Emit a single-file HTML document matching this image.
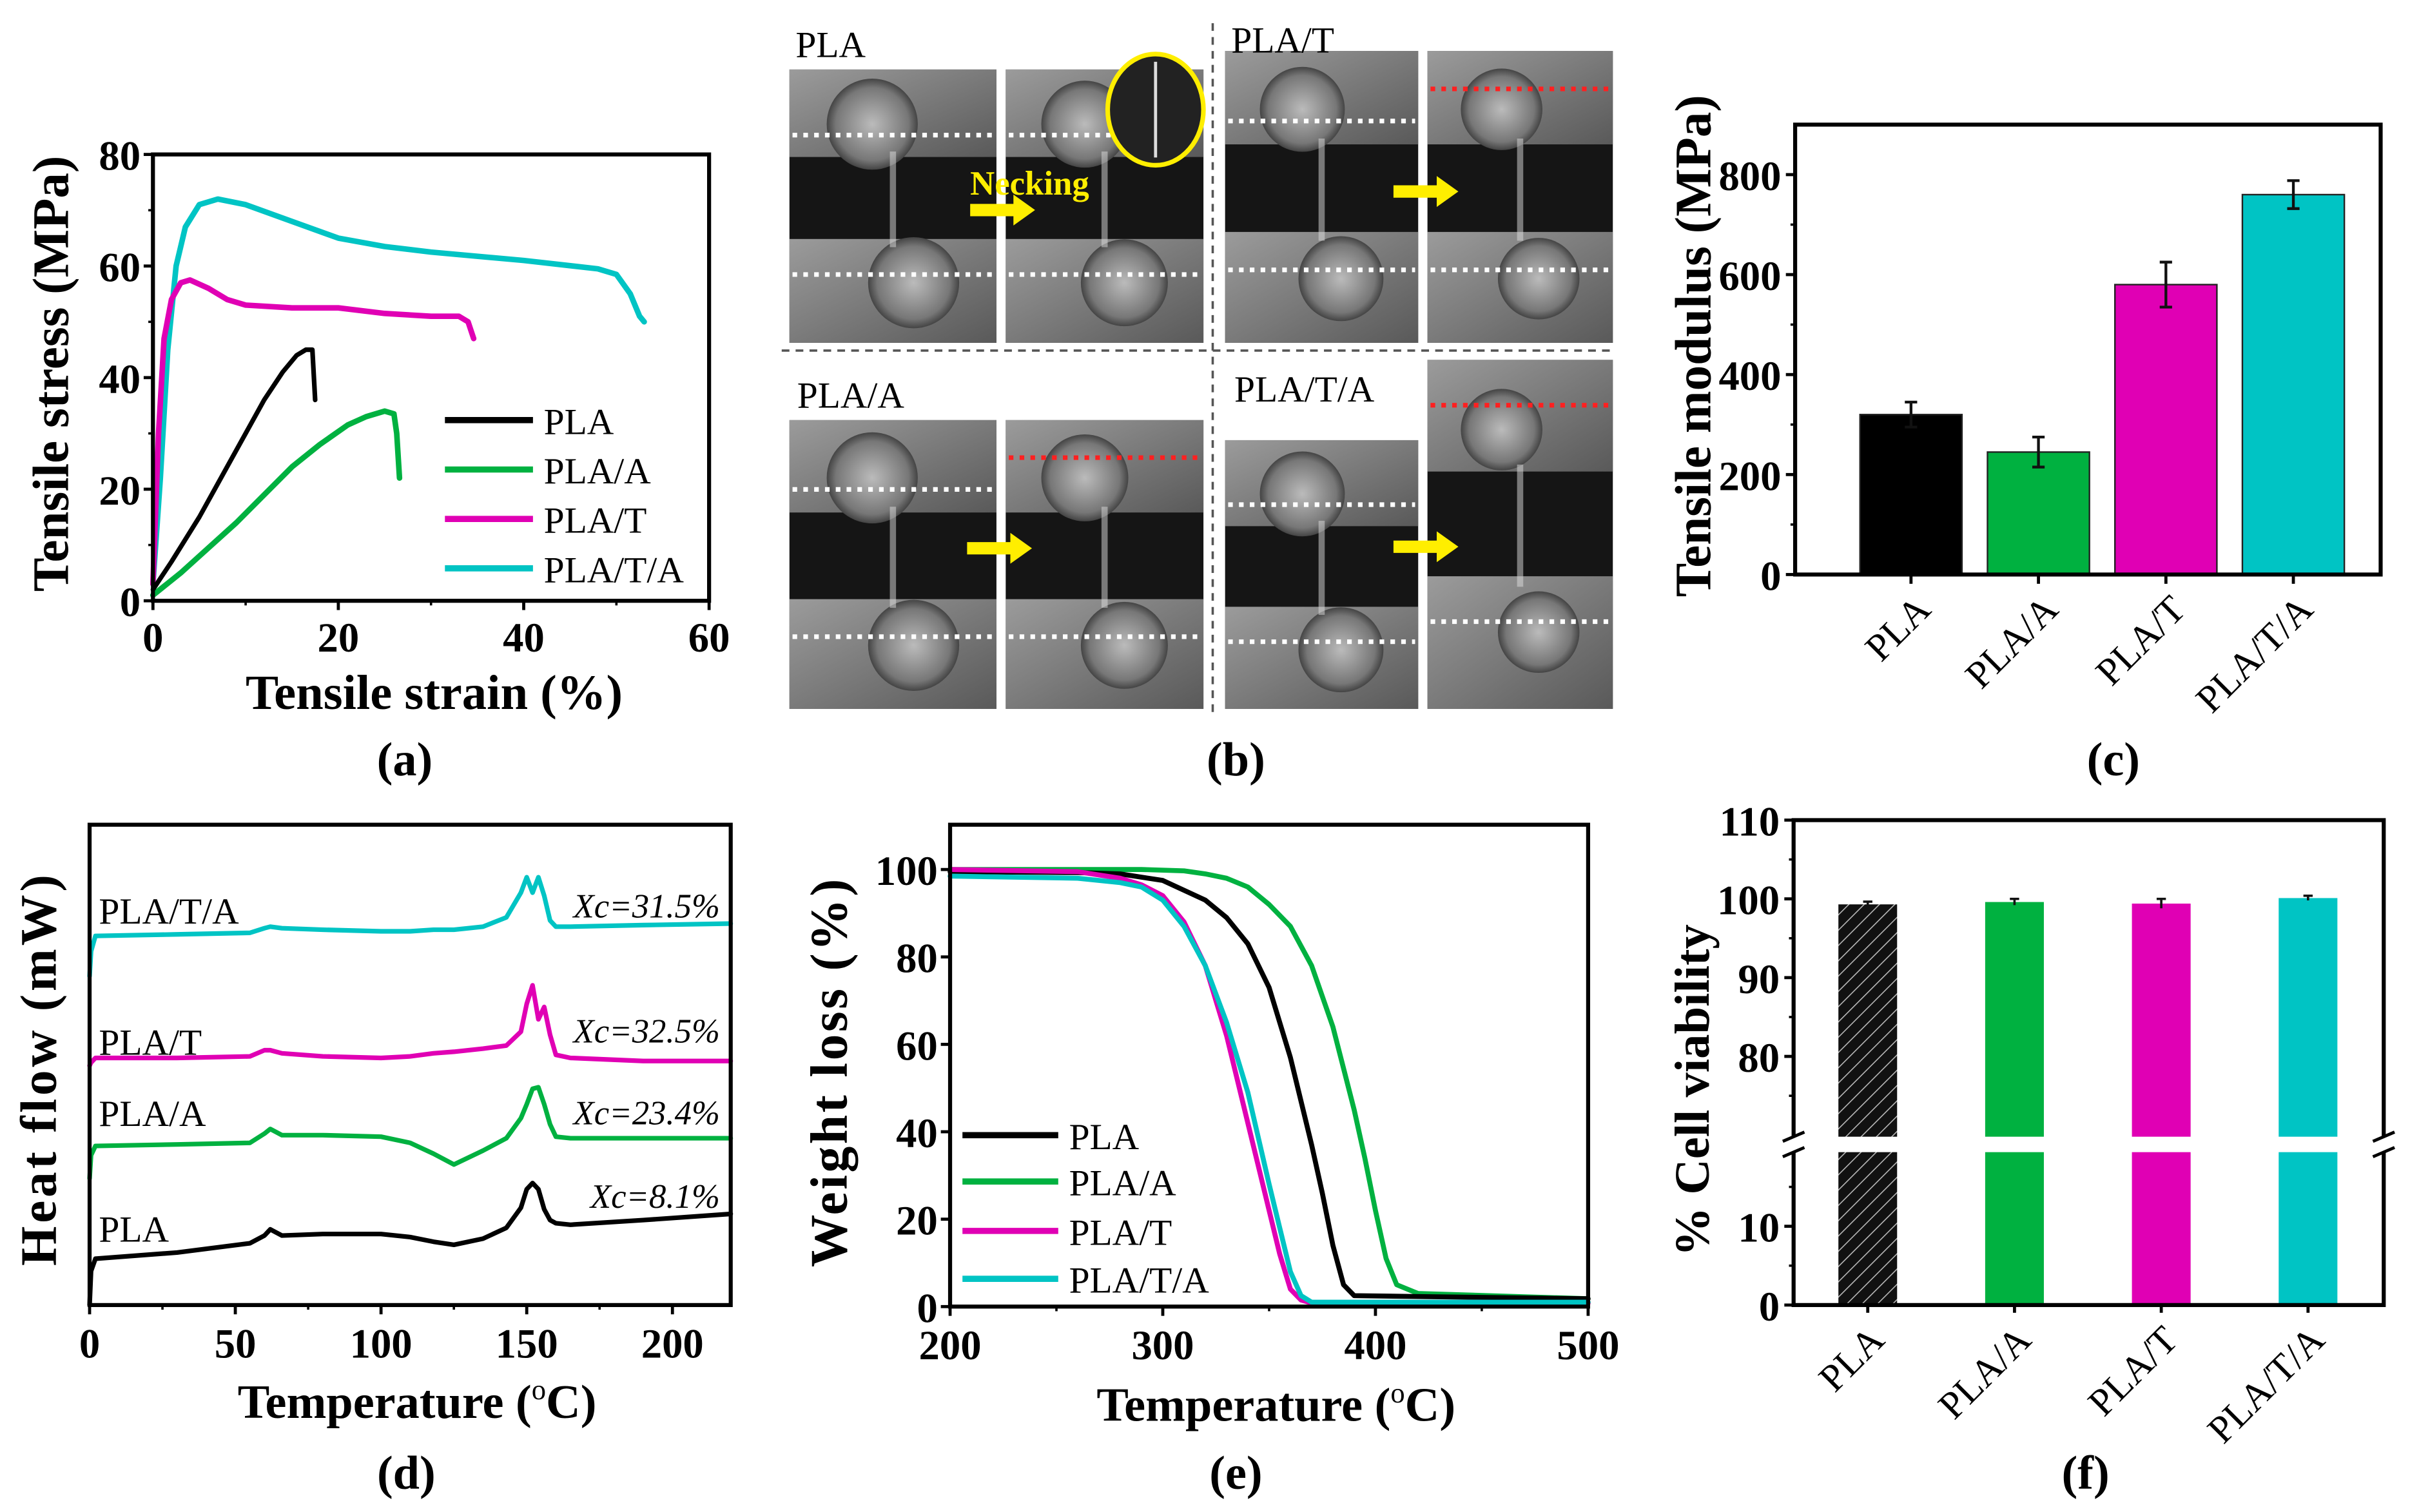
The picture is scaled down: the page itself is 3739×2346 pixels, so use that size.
<!DOCTYPE html>
<html><head><meta charset="utf-8"><style>
html,body{margin:0;padding:0;background:#fff;}
svg{display:block;}
text{font-family:"Liberation Serif",serif;}
</style></head><body>
<svg id="fig" xmlns="http://www.w3.org/2000/svg" width="3739" height="2346" viewBox="0 0 1560 979" preserveAspectRatio="none">
<defs>
<pattern id="hatch" patternUnits="userSpaceOnUse" width="7" height="7" patternTransform="rotate(45)">
<rect width="7" height="7" fill="#111"/><line x1="0" y1="0" x2="0" y2="7" stroke="#bbb" stroke-width="1.3"/>
</pattern>
<linearGradient id="metal" x1="0" y1="0" x2="1" y2="1"><stop offset="0" stop-color="#c8c8c8"/><stop offset="1" stop-color="#707070"/></linearGradient>
<radialGradient id="disc"><stop offset="0" stop-color="#bbb"/><stop offset="0.8" stop-color="#777"/><stop offset="1" stop-color="#444"/></radialGradient>
</defs>
<g id="pa"></g>
<g id="pb"></g>
<g id="pc"></g>
<g id="pd"></g>
<g id="pe"></g>
<g id="pf"></g>
</svg>
<script>
// ---------- data ----------
const seriesNames = ["PLA","PLA/A","PLA/T","PLA/T/A"];
const seriesColors = ["#000000","#00b140","#e000b4","#00c4c4"];
// (a) tensile strain (%) / stress (MPa)
const aPLA_x = [0,2,5,8,10,12,14,15.5,16.5,17.2,17.5];
const aPLA_y = [2,7,15,24,30,36,41,44,45,45,36];
const aPLAA_x = [0,3,6,9,12,15,18,21,23,25,26,26.3,26.6];
const aPLAA_y = [1,5,9.5,14,19,24,28,31.5,33,34,33.5,30,22];
const aPLAT_x = [0,0.6,1.2,2,3,4,6,8,10,15,20,25,30,33,34,34.6];
const aPLAT_y = [3,30,47,54,57,57.5,56,54,53,52.5,52.5,51.5,51,51,50,47];
const aPLATA_x = [0,0.8,1.6,2.5,3.5,5,7,10,15,20,25,30,40,48,50,51.5,52.5,53];
const aPLATA_y = [3,22,45,60,67,71,72,71,68,65,63.5,62.5,61,59.5,58.5,55,51,50];
const aXticks = [0,20,40,60];
const aYticks = [0,20,40,60,80];
// (c) modulus
const cValues = [320,245,580,760];
const cErrors = [25,30,45,28];
const cYticks = [0,200,400,600,800];
// (d) DSC: temperature and heat flow (arbitrary units)
const dT = [0,0.5,2,30,55,60,62,66,80,100,110,118,125,135,143,148,150,152,154,156,158,160,165,190,220];
const dPLA   = [3,25,33,37,43,48,52,48,49,49,47,44,42,46,53,66,78,82,78,65,58,56,55,58,62];
const dPLAA  = [85,100,106,107,108,114,117,113,113,112,108,101,94,103,111,124,133,143,144,133,120,112,111,111,111];
const dPLAT  = [158,160,163,163,164,168,168,166,164,163,164,166,167,169,171,180,198,210,188,196,178,165,163,161,161];
const dPLATA = [216,232,242,243,244,247,248,247,246,245,245,246,246,248,254,270,280,270,280,268,252,248,248,249,250];
const dXticks = [0,50,100,150,200];
const dXc = ["Xc=8.1%","Xc=23.4%","Xc=32.5%","Xc=31.5%"];
// (e) TGA
const eT_PLA = [200,260,280,300,320,330,340,350,360,370,375,380,385,390,420,500];
const eW_PLA = [99.5,99.3,99,97.5,93,89,83,73,57,37,26,14,5,2.5,2.3,1.8];
const eT_PLAA = [200,290,310,320,330,340,350,360,370,380,390,395,400,405,410,420,500];
const eW_PLAA = [100,100,99.7,99,98,96,92,87,78,64,45,34,22,11,5,3,1.8];
const eT_PLAT = [200,260,280,290,300,310,320,330,340,345,350,355,360,365,370,500];
const eW_PLAT = [100,99.5,98,96.5,94,88,78,62,42,32,22,12,4,1.5,0.8,0.8];
const eT_PLATA = [200,260,280,290,300,310,320,330,340,350,355,360,365,370,500];
const eW_PLATA = [98.5,98,97,96,93,87,78,65,49,28,18,8,2.5,1,1];
const eXticks = [200,300,400,500];
const eYticks = [0,20,40,60,80,100];
// (f) cell viability
const fValues = [99.3,99.6,99.4,100.1];
const fErrors = [0.15,0.2,0.4,0.1];
const fYticksUpper = [80,90,100,110];
const fYticksLower = [0,10];

// ---------- helpers ----------
const NS="http://www.w3.org/2000/svg";
function mk(parent, tag, attrs, name){
  const el=document.createElementNS(NS,tag);
  for(const k in attrs) el.setAttribute(k,attrs[k]);
  
  
  parent.appendChild(el);
  return el;
}
function txt(parent, x, y, s, size, opts, name){
  opts=opts||{};
  const a={x:x,y:y,'font-size':size,'text-anchor':opts.anchor||'middle','font-weight':opts.bold?'bold':'normal',fill:opts.fill||'#000'};
  if(opts.italic) a['font-style']='italic';
  if(opts.ls) a['letter-spacing']=opts.ls;
  if(opts.rot!==undefined) a.transform='rotate('+opts.rot+' '+x+' '+y+')';
  const t=mk(parent,'text',a,name);
  t.textContent=s;
  return t;
}
function tempTitle(parent,x,y,size,name){
  const t=mk(parent,'text',{x:x,y:y,'font-size':size,'text-anchor':'middle','font-weight':'bold'},name);
  const s1=document.createElementNS(NS,'tspan'); s1.textContent='Temperature ('; t.appendChild(s1);
  const s2=document.createElementNS(NS,'tspan'); s2.setAttribute('dy',-12); s2.setAttribute('font-size',size*0.6); s2.setAttribute('font-weight','normal'); s2.textContent='o'; t.appendChild(s2);
  const s3=document.createElementNS(NS,'tspan'); s3.setAttribute('dy',12); s3.textContent='C)'; t.appendChild(s3);
  return t;
}
function poly(parent, xs, ys, fx, fy, color, w, name){
  const pts=xs.map((v,i)=>fx(v).toFixed(2)+','+fy(ys[i]).toFixed(2)).join(' ');
  return mk(parent,'polyline',{points:pts,fill:'none',stroke:color,'stroke-width':w,'stroke-linejoin':'round','stroke-linecap':'round'},name);
}
function box(parent,x1,y1,x2,y2,name){
  return mk(parent,'rect',{x:x1,y:y1,width:x2-x1,height:y2-y1,fill:'none',stroke:'#000','stroke-width':2.6},name);
}
function ln(parent,x1,y1,x2,y2,c,w,name,dash){
  const a={x1:x1,y1:y1,x2:x2,y2:y2,stroke:c,'stroke-width':w};
  if(dash) a['stroke-dasharray']=dash;
  return mk(parent,'line',a,name);
}

// ---------- (a) ----------
(function(){
  const g=document.getElementById('pa');
  const X0=99,X1=459,Y0=389,Y1=100;
  const xA=v=>X0+(v-0)/60*(X1-X0);
  const yA=v=>Y0-(v-0)/80*(Y0-Y1);
  const xs=[aPLA_x,aPLAA_x,aPLAT_x,aPLATA_x], ys=[aPLA_y,aPLAA_y,aPLAT_y,aPLATA_y];
  for(let i=3;i>=0;i--) poly(g,xs[i],ys[i],xA,yA,seriesColors[i],i===0?3:3.6,'tensile-curve-'+seriesNames[i].toLowerCase().replace(/\//g,'-'));
  box(g,X0,Y1,X1,Y0,'plot-frame-a');
  aXticks.forEach(v=>{ln(g,xA(v),Y0,xA(v),Y0+6,'#000',2,'x-tick-a');txt(g,xA(v),Y0+33,String(v),27,{bold:true},'x-tick-label-a');});
  [10,30,50].forEach(v=>ln(g,xA(v),Y0,xA(v),Y0+3,'#000',1.5,'x-minor-tick-a'));
  aYticks.forEach(v=>{ln(g,X0,yA(v),X0-6,yA(v),'#000',2,'y-tick-a');txt(g,X0-8,yA(v)+10,String(v),27,{bold:true,anchor:'end'},'y-tick-label-a');});
  [10,30,50,70].forEach(v=>ln(g,X0,yA(v),X0-3,yA(v),'#000',1.5,'y-minor-tick-a'));
  txt(g,281,459,'Tensile strain (%)',32,{bold:true},'x-axis-title-a');
  txt(g,44,242,'Tensile stress (MPa)',33,{bold:true,rot:-90},'y-axis-title-a');
  const ly=[272,304,336,368];
  seriesNames.forEach((n,i)=>{ln(g,288,ly[i],345,ly[i],seriesColors[i],4,'legend-line-a');txt(g,352,ly[i]+9,n,24,{anchor:'start'},'legend-entry-a');});
  txt(g,262,502,'(a)',31,{bold:true},'panel-label-a');
})();

// ---------- (b) photos ----------
(function(){
  const g=document.getElementById('pb');
  const imgs=[[511,45,134,177,0,'white','white'],[651,45,128,177,1,'white','white'],[793,33,125,189,0,'white','white'],[924,33,120,189,1,'red','white'],
              [511,272,134,187,0,'white','white'],[651,272,128,187,1,'red','white'],[793,285,125,174,0,'white','white'],[924,233,120,226,1,'red','white']];
  imgs.forEach((m,k)=>{
    const [x,y,w,h]=m;
    mk(g,'rect',{x:x,y:y,width:w,height:h,fill:'#151515'},'photo-frame');
    mk(g,'rect',{x:x,y:y,width:w,height:h*0.32,fill:'url(#metal)',opacity:0.75},'upper-grip');
    mk(g,'circle',{cx:x+w*0.4,cy:y+h*0.2,r:Math.min(w,h)*0.22,fill:'url(#disc)'},'upper-disc');
    mk(g,'rect',{x:x,y:y+h*0.62,width:w,height:h*0.38,fill:'url(#metal)',opacity:0.75},'lower-grip');
    mk(g,'circle',{cx:x+w*0.6,cy:y+h*0.78,r:Math.min(w,h)*0.22,fill:'url(#disc)'},'lower-disc');
    mk(g,'rect',{x:x+w*0.5-2,y:y+h*0.3,width:4,height:h*0.35,fill:'#ddd',opacity:0.5},'specimen');
    const c1=m[5]==='red'?'#ff2020':'#ffffff';
    ln(g,x+2,y+h*(m[5]==='red'?0.13:0.24),x+w-2,y+h*(m[5]==='red'?0.13:0.24),c1,3,'gauge-mark-upper','3 4');
    ln(g,x+2,y+h*0.75,x+w-2,y+h*0.75,'#ffffff',3,'gauge-mark-lower','3 4');
  });
  [[628,136],[902,124],[626,355],[902,354]].forEach(p=>{
    mk(g,'polygon',{points:(p[0])+','+(p[1]-4)+' '+(p[0]+28)+','+(p[1]-4)+' '+(p[0]+28)+','+(p[1]-10)+' '+(p[0]+42)+','+p[1]+' '+(p[0]+28)+','+(p[1]+10)+' '+(p[0]+28)+','+(p[1]+4)+' '+p[0]+','+(p[1]+4),fill:'#ffee00'},'yellow-arrow');
  });
  mk(g,'ellipse',{cx:748,cy:71,rx:31,ry:36,fill:'#222',stroke:'#ffee00','stroke-width':3},'necking-zoom-circle');
  ln(g,748,40,748,102,'#ddd',2,'necking-specimen');
  txt(g,628,126,'Necking',22,{bold:true,anchor:'start',fill:'#ffee00'},'necking-label');
  ln(g,785,15,785,462,'#555',1.5,'separator-vertical','5 4');
  ln(g,506,227,1046,227,'#555',1.5,'separator-horizontal','5 4');
  txt(g,515,37,'PLA',24,{anchor:'start'},'photo-label-pla');
  txt(g,797,34,'PLA/T',24,{anchor:'start'},'photo-label-pla-t');
  txt(g,516,264,'PLA/A',24,{anchor:'start'},'photo-label-pla-a');
  txt(g,799,260,'PLA/T/A',24,{anchor:'start'},'photo-label-pla-t-a');
  txt(g,800,502,'(b)',31,{bold:true},'panel-label-b');
})();

// ---------- (c) ----------
(function(){
  const g=document.getElementById('pc');
  const X0=1162,X1=1541,Y0=372,Y1=80.7;
  const yC=v=>Y0-v/900*(Y0-Y1);
  const xC=i=>1237+i*82.5;
  cValues.forEach((v,i)=>{
    mk(g,'rect',{x:xC(i)-33,y:yC(v),width:66,height:Y0-yC(v),fill:seriesColors[i],stroke:'#222','stroke-width':1},'bar-'+seriesNames[i].toLowerCase().replace(/\//g,'-'));
    const e=cErrors[i];
    ln(g,xC(i),yC(v+e),xC(i),yC(v-e),'#111',1.8,'error-bar');
    ln(g,xC(i)-4,yC(v+e),xC(i)+4,yC(v+e),'#111',1.8,'error-cap');
    ln(g,xC(i)-4,yC(v-e),xC(i)+4,yC(v-e),'#111',1.8,'error-cap');
    ln(g,xC(i),Y0,xC(i),Y0+6,'#000',2,'x-tick-c');
    txt(g,xC(i)+14,Y0+24,seriesNames[i],25,{anchor:'end',rot:-45},'x-tick-label-c');
  });
  box(g,X0,Y1,X1,Y0,'plot-frame-c');
  cYticks.forEach(v=>{ln(g,X0,yC(v),X0-6,yC(v),'#000',2,'y-tick-c');txt(g,X0-9,yC(v)+10,String(v),27,{bold:true,anchor:'end'},'y-tick-label-c');});
  [100,300,500,700].forEach(v=>ln(g,X0,yC(v),X0-3,yC(v),'#000',1.5,'y-minor-tick-c'));
  txt(g,1107,224,'Tensile modulus (MPa)',33,{bold:true,rot:-90},'y-axis-title-c');
  txt(g,1368,502,'(c)',31,{bold:true},'panel-label-c');
})();

// ---------- (d) ----------
(function(){
  const g=document.getElementById('pd');
  const X0=58,X1=473,Y0=845,Y1=534;
  const xD=v=>X0+v/220*(X1-X0);
  const yD=v=>848-v;
  const ds=[dPLA,dPLAA,dPLAT,dPLATA];
  ds.forEach((s,i)=>poly(g,dT,s,xD,yD,seriesColors[i],3,'dsc-curve-'+seriesNames[i].toLowerCase().replace(/\//g,'-')));
  box(g,X0,Y1,X1,Y0,'plot-frame-d');
  dXticks.forEach(v=>{ln(g,xD(v),Y0,xD(v),Y0+6,'#000',2,'x-tick-d');txt(g,xD(v),Y0+34,String(v),27,{bold:true},'x-tick-label-d');});
  [25,75,125,175].forEach(v=>ln(g,xD(v),Y0,xD(v),Y0+3,'#000',1.5,'x-minor-tick-d'));
  const lab=[[64,804],[64,729],[64,683],[64,598]];
  seriesNames.forEach((n,i)=>txt(g,lab[i][0],lab[i][1],n,24,{anchor:'start'},'curve-label-d'));
  const xy=[782,728,675,594];
  dXc.forEach((s,i)=>txt(g,466,xy[i],s,22,{anchor:'end',italic:true},'crystallinity-label'));
  tempTitle(g,270,918,31,'x-axis-title-d');
  txt(g,36,692,'Heat flow (mW)',33,{bold:true,rot:-90,ls:2},'y-axis-title-d');
  txt(g,263,964,'(d)',31,{bold:true},'panel-label-d');
})();

// ---------- (e) ----------
(function(){
  const g=document.getElementById('pe');
  const X0=615,X1=1028,Y0=846,Y1=534;
  const xE=v=>X0+(v-200)/300*(X1-X0);
  const yE=v=>Y0-v*2.83;
  const tx=[eT_PLA,eT_PLAA,eT_PLAT,eT_PLATA], wy=[eW_PLA,eW_PLAA,eW_PLAT,eW_PLATA];
  [1,0,2,3].forEach(i=>poly(g,tx[i],wy[i],xE,yE,seriesColors[i],3.2,'tga-curve-'+seriesNames[i].toLowerCase().replace(/\//g,'-')));
  box(g,X0,Y1,X1,Y0,'plot-frame-e');
  eXticks.forEach(v=>{ln(g,xE(v),Y0,xE(v),Y0+6,'#000',2,'x-tick-e');txt(g,xE(v),Y0+34,String(v),27,{bold:true},'x-tick-label-e');});
  [250,350,450].forEach(v=>ln(g,xE(v),Y0,xE(v),Y0+3,'#000',1.5,'x-minor-tick-e'));
  eYticks.forEach(v=>{ln(g,X0,yE(v),X0-6,yE(v),'#000',2,'y-tick-e');txt(g,X0-8,yE(v)+10,String(v),27,{bold:true,anchor:'end'},'y-tick-label-e');});
  const ly=[735,765,797,828];
  seriesNames.forEach((n,i)=>{ln(g,623,ly[i],685,ly[i],seriesColors[i],4,'legend-line-e');txt(g,692,ly[i]+9,n,24,{anchor:'start'},'legend-entry-e');});
  tempTitle(g,826,920,31,'x-axis-title-e');
  txt(g,548,694,'Weight loss (%)',34,{bold:true,rot:-90,ls:1.5},'y-axis-title-e');
  txt(g,800,964,'(e)',31,{bold:true},'panel-label-e');
})();

// ---------- (f) ----------
(function(){
  const g=document.getElementById('pf');
  const X0=1161,X1=1543,Y0=845,Y1=531,BU=736,BL=746;
  const yU=v=>582-(v-100)*5.1;
  const yL=v=>Y0-v*5.1;
  const xF=i=>1209+i*95;
  fValues.forEach((v,i)=>{
    const fill=i===0?'url(#hatch)':seriesColors[i];
    mk(g,'rect',{x:xF(i)-19,y:yU(v),width:38,height:BU-yU(v),fill:fill},'bar-upper-'+seriesNames[i].toLowerCase().replace(/\//g,'-'));
    mk(g,'rect',{x:xF(i)-19,y:BL,width:38,height:Y0-BL,fill:fill},'bar-lower-'+seriesNames[i].toLowerCase().replace(/\//g,'-'));
    const e=fErrors[i];
    ln(g,xF(i),yU(v+e)-1,xF(i),yU(v-e)+1,'#111',1.5,'error-bar-f');
    ln(g,xF(i)-3,yU(v+e)-1,xF(i)+3,yU(v+e)-1,'#111',1.5,'error-cap-f');
    ln(g,xF(i),Y0,xF(i),Y0+5,'#000',2,'x-tick-f');
    txt(g,xF(i)+12,Y0+24,seriesNames[i],25,{anchor:'end',rot:-45},'x-tick-label-f');
  });
  mk(g,'polyline',{points:X0+','+BU+' '+X0+','+Y1+' '+X1+','+Y1+' '+X1+','+BU,fill:'none',stroke:'#000','stroke-width':2.6},'plot-frame-f-upper');
  mk(g,'polyline',{points:X0+','+BL+' '+X0+','+Y0+' '+X1+','+Y0+' '+X1+','+BL,fill:'none',stroke:'#000','stroke-width':2.6},'plot-frame-f-lower');
  [X0,X1].forEach(x=>{ln(g,x-7,BU+3,x+7,BU-3,'#000',2,'axis-break-mark');ln(g,x-7,BL+3,x+7,BL-3,'#000',2,'axis-break-mark');});
  fYticksUpper.forEach(v=>{ln(g,X0,yU(v),X0-6,yU(v),'#000',2,'y-tick-f');txt(g,X0-9,yU(v)+10,String(v),27,{bold:true,anchor:'end'},'y-tick-label-f');});
  [75,85,95,105].forEach(v=>ln(g,X0,yU(v),X0-3,yU(v),'#000',1.5,'y-minor-tick-f'));
  fYticksLower.forEach(v=>{ln(g,X0,yL(v),X0-6,yL(v),'#000',2,'y-tick-f');txt(g,X0-9,yL(v)+10,String(v),27,{bold:true,anchor:'end'},'y-tick-label-f');});
  [5,15].forEach(v=>ln(g,X0,yL(v),X0-3,yL(v),'#000',1.5,'y-minor-tick-f'));
  txt(g,1106,706,'% Cell viability',32,{bold:true,rot:-90},'y-axis-title-f');
  txt(g,1350,964,'(f)',31,{bold:true},'panel-label-f');
})();
</script>
</body></html>
